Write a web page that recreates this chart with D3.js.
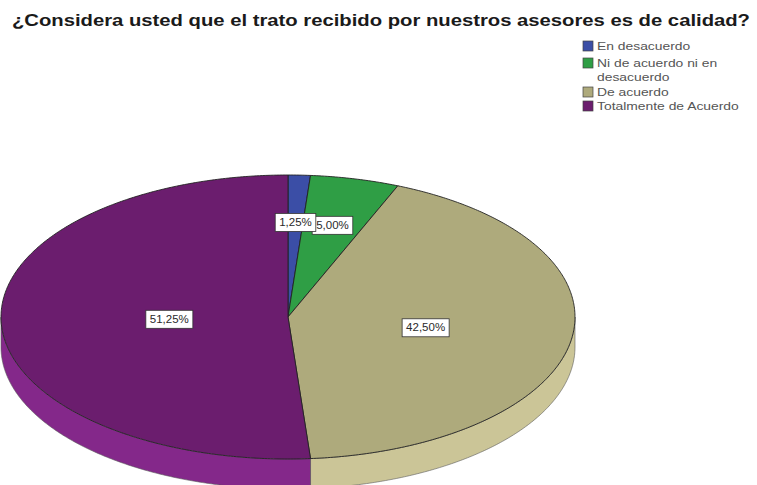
<!DOCTYPE html>
<html>
<head>
<meta charset="utf-8">
<script src="https://cdn.jsdelivr.net/npm/d3@7"></script>
<style>
  html, body { margin: 0; padding: 0; background: #ffffff; }
  svg { display: block; }
</style>
</head>
<body>
<svg id="chart" width="757" height="485"></svg>
<script>
// Survey answers and their shares (percent of respondents)
const categories = ["En desacuerdo", "Ni de acuerdo ni en desacuerdo", "De acuerdo", "Totalmente de Acuerdo"];
const percents = [1.25, 5.00, 42.50, 51.25];
const legendLines = [["En desacuerdo"], ["Ni de acuerdo ni en", "desacuerdo"], ["De acuerdo"], ["Totalmente de Acuerdo"]];
const topColors = ["#3b4ea6", "#2f9e45", "#aeaa7c", "#6b1d6e"];
const sideColors = ["#4a5db5", "#3aad52", "#cbc597", "#84288a"];
const titleText = "¿Considera usted que el trato recibido por nuestros asesores es de calidad?";

const svg = d3.select("#chart");
const W = 757, H = 485;
const stretch = 1.26; // wide type used throughout

// Text helper: draws text and widens it horizontally
function wideText(sel, x, y, str, opts) {
  const t = sel.append("text")
    .attr("x", x).attr("y", y)
    .attr("font-family", "Arial, 'Liberation Sans', sans-serif")
    .attr("font-size", opts.size)
    .attr("font-weight", opts.weight || "normal")
    .attr("fill", opts.fill || "#333")
    .attr("text-anchor", opts.anchor || "start")
    .text(str);
  const w = t.node().getComputedTextLength();
  t.attr("textLength", w * (opts.stretch || stretch)).attr("lengthAdjust", "spacingAndGlyphs");
  return t;
}

// Title
wideText(svg, 12, 26, titleText, { size: 16, weight: "bold", fill: "#1a1a1a", stretch: 1.0 })
  .attr("textLength", 738);

// Pie geometry (elliptical top face with a visible rim)
const cx = 288, cy = 317, rx = 287, ry = 142, depth = 30;
const pie = d3.pie().sort(null).value(d => d);
const arcs = pie(percents);

const px = a => cx + rx * Math.sin(a);
const py = (a, off) => cy - ry * Math.cos(a) + (off || 0);

function sampleAngles(a0, a1) {
  const n = Math.max(2, Math.ceil(Math.abs(a1 - a0) / 0.01));
  return d3.range(n + 1).map(i => a0 + (a1 - a0) * i / n);
}

const line = d3.line();

// Rim: only the front half (angles between PI/2 and 3PI/2) is visible
const gSide = svg.append("g");
arcs.forEach((d, i) => {
  const a0 = Math.max(d.startAngle, Math.PI / 2);
  const a1 = Math.min(d.endAngle, 3 * Math.PI / 2);
  if (a1 <= a0) return;
  const angs = sampleAngles(a0, a1);
  const pts = angs.map(a => [px(a), py(a)])
    .concat(angs.slice().reverse().map(a => [px(a), py(a, depth)]));
  gSide.append("path")
    .attr("d", line(pts) + "Z")
    .attr("fill", sideColors[i])
    .attr("stroke", "#5a5a5a")
    .attr("stroke-width", 0.6);
});

// Top faces
const gTop = svg.append("g");
arcs.forEach((d, i) => {
  const angs = sampleAngles(d.startAngle, d.endAngle);
  const pts = [[cx, cy]].concat(angs.map(a => [px(a), py(a)]));
  gTop.append("path")
    .attr("d", line(pts) + "Z")
    .attr("fill", topColors[i])
    .attr("stroke", "#222")
    .attr("stroke-width", 0.9)
    .attr("stroke-linejoin", "round");
});

// Value labels at each wedge centroid
const fmt = v => d3.format(".2f")(v).replace(".", ",") + "%";
const gLab = svg.append("g");
const order = d3.range(arcs.length).reverse(); // first slice's label on top
order.forEach(i => {
  const d = arcs[i];
  const half = (d.endAngle - d.startAngle) / 2;
  const mid = d.startAngle + half;
  const f = (2 / 3) * Math.sin(half) / half;
  const x = cx + rx * f * Math.sin(mid);
  const y = cy - ry * f * Math.cos(mid);
  const g = gLab.append("g");
  const rect = g.append("rect");
  const t = wideText(g, x, y + 3.5, fmt(percents[i]), { size: 10, fill: "#2a2a2a", anchor: "middle", stretch: 1.15 });
  const w = +t.attr("textLength") + 8;
  rect.attr("x", x - w / 2).attr("y", y - 9).attr("width", w).attr("height", 18)
    .attr("fill", "#ffffff").attr("stroke", "#333").attr("stroke-width", 0.8);
});

// Legend
const legend = svg.append("g");
const rowY = [46, 63, 92, 106];
categories.forEach((c, i) => {
  legend.append("rect")
    .attr("x", 583).attr("y", rowY[i] - 5).attr("width", 10).attr("height", 10)
    .attr("fill", topColors[i]).attr("stroke", "#444").attr("stroke-width", 0.7);
  legendLines[i].forEach((ln, k) => {
    wideText(legend, 597, rowY[i] + 4 + k * 14, ln, { size: 11, fill: "#555" });
  });
});
</script>
</body>
</html>
